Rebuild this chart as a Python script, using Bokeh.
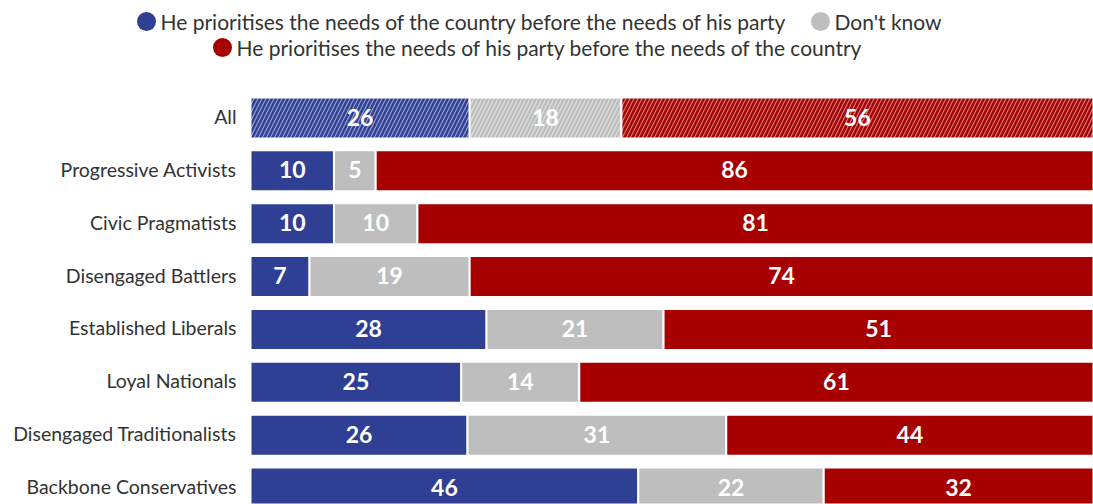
from bokeh.plotting import figure
from bokeh.models import Range1d, ColumnDataSource
from bokeh.core.properties import value
from bokeh.embed import file_html
from bokeh.resources import INLINE

# ---- data ----
categories = ["All", "Progressive Activists", "Civic Pragmatists", "Disengaged Battlers",
              "Established Liberals", "Loyal Nationals", "Disengaged Traditionalists",
              "Backbone Conservatives"]
country_first = [26, 10, 10, 7, 28, 25, 26, 46]
dont_know = [18, 5, 10, 19, 21, 14, 31, 22]
party_first = [56, 86, 81, 74, 51, 61, 44, 32]
series_names = ["He prioritises the needs of the country before the needs of his party",
                "Don't know",
                "He prioritises the needs of his party before the needs of the country"]
colors = ["#2f3f94", "#bebebe", "#a60000"]

# ---- layout ----
W, H = 1093, 504
frame_left_px = 250
sx = (W - frame_left_px) / 100.0
x_start = -frame_left_px / sx
pitch = 52.86
first_center_px = 117.5
y_top = -first_center_px / pitch
y_bottom = y_top + H / pitch


def px_x(px):
    return x_start + px / sx


def px_y(py):
    return y_top + py / pitch


p = figure(width=W, height=H, x_range=Range1d(x_start, 100), y_range=Range1d(y_bottom, y_top),
           output_backend="svg", toolbar_location=None, x_axis_location=None,
           y_axis_location=None, min_border=0, min_border_left=0, min_border_right=0,
           min_border_top=0, min_border_bottom=0)
p.grid.visible = False
p.outline_line_color = None
p.background_fill_color = "white"
p.border_fill_color = "white"

series = [country_first, dont_know, party_first]
bar_h = 41.0 / pitch

for hatched in (True, False):
    data = dict(y=[], left=[], right=[], color=[], label=[], cx=[])
    for i, cat in enumerate(categories):
        if (i == 0) != hatched:
            continue
        vals = [s[i] for s in series]
        tot = float(sum(vals))
        acc = 0.0
        for k, v in enumerate(vals):
            l = acc / tot * 100
            acc += v
            r = acc / tot * 100
            data["y"].append(i)
            data["left"].append(l)
            data["right"].append(r)
            data["color"].append(colors[k])
            data["label"].append(str(v))
            data["cx"].append((l + r) / 2)
    src = ColumnDataSource(data)
    kw = dict(y="y", left="left", right="right", height=bar_h, fill_color="color",
              line_color="white", line_width=2, source=src)
    if hatched:
        kw.update(hatch_pattern="right_diagonal_line", hatch_color="white", hatch_alpha=0.5,
                  hatch_scale=8, hatch_weight=1.2)
    p.hbar(**kw)
    p.text(x="cx", y="y", text="label", source=src, text_color="white",
           text_font=value("Lato"), text_font_style="bold", text_font_size="23px",
           text_align="center", text_baseline="middle", y_offset=-1)

# category labels
p.text(x=[px_x(236)] * len(categories), y=list(range(len(categories))), text=categories,
       text_color="#333333", text_font=value("Lato"), text_font_size="19.5px",
       text_align="right", text_baseline="middle", y_offset=-1.5)

# legend (two centred lines)
leg_rows = [(0, 146, 21), (1, 820, 21), (2, 222, 47)]
for k, cx_px, cy_px in leg_rows:
    p.scatter(x=[px_x(cx_px)], y=[px_y(cy_px)], size=19, marker="circle",
              fill_color=colors[k], line_color=None)
    p.text(x=[px_x(cx_px + 14)], y=[px_y(cy_px)], text=[series_names[k]],
           text_color="#333333", text_font=value("Lato"), text_font_size="21px",
           text_align="left", text_baseline="middle")

open("out.html", "w").write(file_html(p, INLINE))
